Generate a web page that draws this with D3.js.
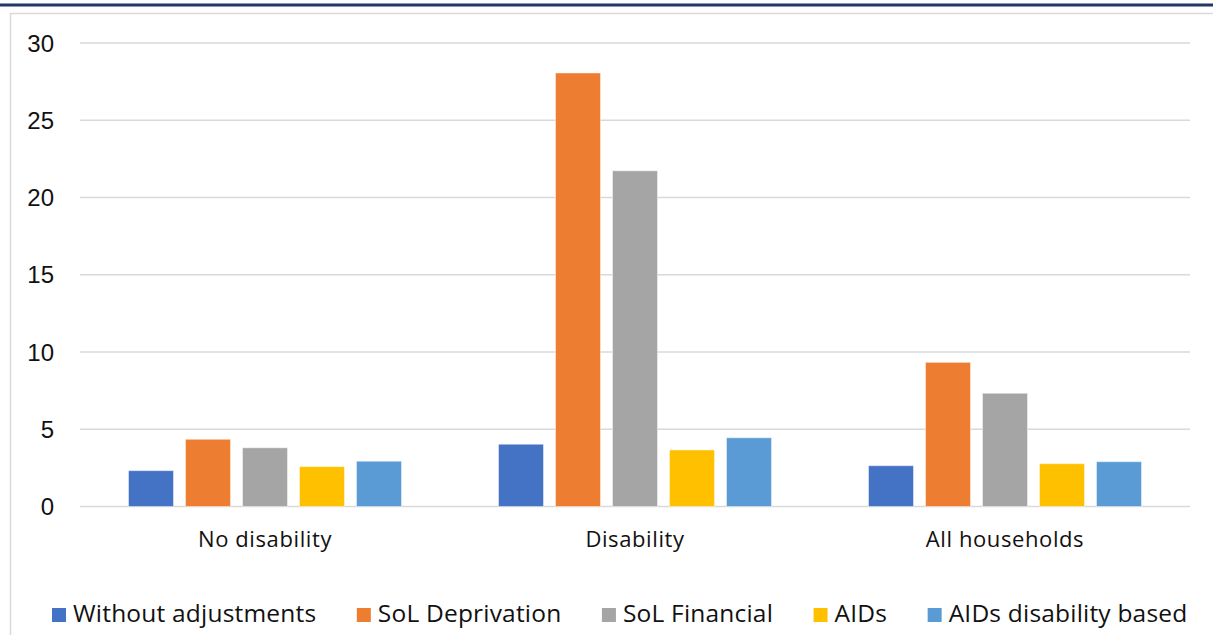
<!DOCTYPE html>
<html>
<head>
<meta charset="utf-8">
<script src="https://cdn.jsdelivr.net/npm/d3@7"></script>
<style>
  html, body { margin: 0; padding: 0; background: #fff; }
  svg { display: block; }
</style>
</head>
<body>
<div id="chart"></div>
<script>
// Data
const categories = ['No disability', 'Disability', 'All households'];
const seriesNames = ['Without adjustments', 'SoL Deprivation', 'SoL Financial', 'AIDs', 'AIDs disability based'];
const seriesColors = ['#4472C4', '#ED7D31', '#A5A5A5', '#FFC000', '#5B9BD5'];
const withoutAdjustments = [2.32, 4.03, 2.64];
const solDeprivation = [4.35, 28.06, 9.33];
const solFinancial = [3.8, 21.73, 7.33];
const aids = [2.58, 3.66, 2.77];
const aidsDisability = [2.93, 4.45, 2.9];
const yTicks = [0, 5, 10, 15, 20, 25, 30];

const seriesValues = [withoutAdjustments, solDeprivation, solFinancial, aids, aidsDisability];

const width = 1213, height = 635;
const svg = d3.select('#chart').append('svg')
  .attr('width', width)
  .attr('height', height);

// Top dark line and chart frame
svg.append('rect')
  .attr('x', 0).attr('y', 3.5)
  .attr('width', width).attr('height', 3)
  .attr('fill', '#1f3864');

svg.append('rect')
  .attr('x', 10.5).attr('y', 13.5)
  .attr('width', width + 20).attr('height', height)
  .attr('fill', 'none')
  .attr('stroke', '#d9d9d9')
  .attr('stroke-width', 1.5);

// Scales
const x = d3.scaleBand()
  .domain(categories)
  .range([80, 1190])
  .padding(0);

const groupWidth = x.bandwidth() * 273 / 370;
const xInner = d3.scaleBand()
  .domain(d3.range(seriesNames.length))
  .range([0, groupWidth])
  .paddingInner(12 / 57)
  .paddingOuter(0);

const y = d3.scaleLinear()
  .domain([0, 30])
  .range([506.5, 43]);

// Gridlines
svg.append('g')
  .selectAll('line')
  .data(yTicks)
  .join('line')
  .attr('x1', 80).attr('x2', 1190)
  .attr('y1', d => y(d)).attr('y2', d => y(d))
  .attr('stroke', '#d9d9d9')
  .attr('stroke-width', 1.5);

// Y axis labels
svg.append('g')
  .selectAll('text')
  .data(yTicks)
  .join('text')
  .attr('x', 54)
  .attr('y', d => y(d) + 8.5)
  .attr('text-anchor', 'end')
  .attr('font-family', 'Liberation Sans, Arial, sans-serif')
  .attr('font-size', 24)
  .attr('fill', '#111')
  .text(d => d);

// Bars
const groups = svg.append('g')
  .selectAll('g')
  .data(categories)
  .join('g')
  .attr('transform', d => `translate(${x(d) + (x.bandwidth() - groupWidth) / 2},0)`);

groups.selectAll('rect')
  .data((d, ci) => seriesValues.map((vals, si) => ({ si, v: vals[ci] })))
  .join('rect')
  .attr('x', d => xInner(d.si))
  .attr('width', xInner.bandwidth())
  .attr('y', d => y(d.v))
  .attr('height', d => y(0) - y(d.v))
  .attr('fill', d => seriesColors[d.si])
  .attr('stroke', '#ffffff')
  .attr('stroke-opacity', 0.45)
  .attr('stroke-width', 1);

// X category labels
svg.append('g')
  .selectAll('text')
  .data(categories)
  .join('text')
  .attr('x', d => x(d) + x.bandwidth() / 2)
  .attr('y', 547)
  .attr('text-anchor', 'middle')
  .attr('font-family', 'Open Sans, sans-serif')
  .attr('font-size', 22)
  .attr('letter-spacing', 0.6)
  .attr('fill', '#111')
  .text(d => d);

// Legend
const legend = svg.append('g');
let lx = 52;
seriesNames.forEach((name, i) => {
  legend.append('rect')
    .attr('x', lx).attr('y', 608)
    .attr('width', 14).attr('height', 14)
    .attr('fill', seriesColors[i]);
  const t = legend.append('text')
    .attr('x', lx + 21)
    .attr('y', 621.5)
    .attr('font-family', 'Open Sans, sans-serif')
    .attr('font-size', 24.5)
    .attr('letter-spacing', 0.2)
    .attr('fill', '#111')
    .text(name);
  lx += 21 + t.node().getComputedTextLength() + 40.5;
});
</script>
</body>
</html>
